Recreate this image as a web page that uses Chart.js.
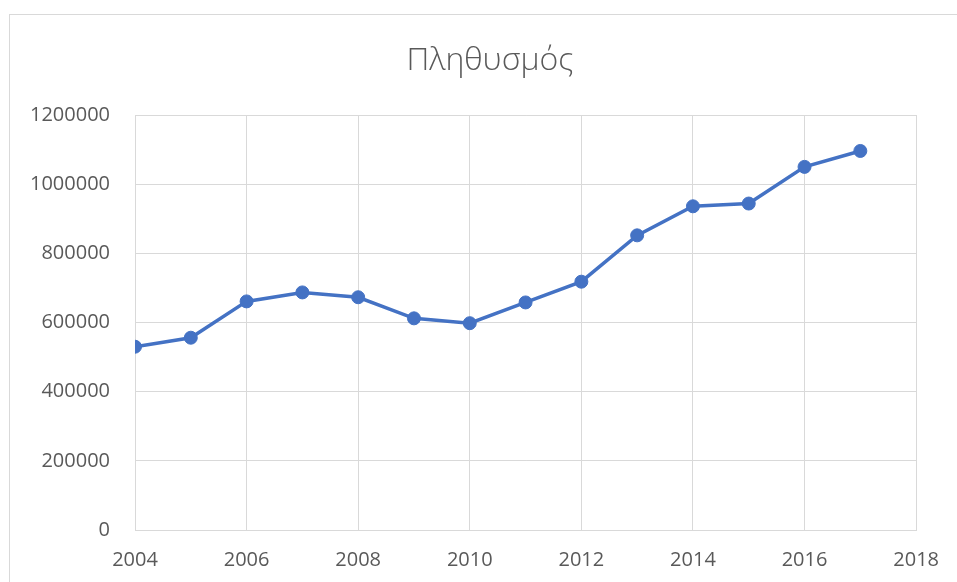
<!DOCTYPE html>
<html>
<head>
<meta charset="utf-8">
<script src="https://cdn.jsdelivr.net/npm/chart.js@4/dist/chart.umd.min.js"></script>
<style>
  html, body { margin: 0; padding: 0; background: #fff; overflow: hidden; }
  #wrap { position: relative; width: 957px; height: 582px; }
  #frame { position: absolute; left: 9px; top: 14px; width: 1000px; height: 1000px; border: 1px solid #d9d9d9; box-sizing: border-box; }
  #title { position: absolute; left: 9px; width: 962px; top: 41.6px; text-align: center;
           font-family: 'Open Sans', 'DejaVu Sans', sans-serif; font-weight: 300; font-size: 32px;
           line-height: 1; color: #595959; white-space: nowrap; }
  canvas { position: absolute; left: 0; top: 0; }
</style>
</head>
<body>
<div id="wrap">
  <div id="frame"></div>
  <canvas id="c" width="957" height="582"></canvas>
  <div id="title"></div>
</div>
<script>
const titleText = "Πληθυσμός";
const years = [2004, 2005, 2006, 2007, 2008, 2009, 2010, 2011, 2012, 2013, 2014, 2015, 2016, 2017];
const population = [530000, 556000, 661000, 687000, 673000, 612000, 598000, 658000, 718000, 852000, 936000, 944000, 1050000, 1096000];
const xTicks = [2004, 2006, 2008, 2010, 2012, 2014, 2016, 2018];
const yTicks = [0, 200000, 400000, 600000, 800000, 1000000, 1200000];

document.getElementById('title').textContent = titleText;

const points = years.map((y, i) => ({ x: y, y: population[i] }));
const FONT = "'Open Sans', 'DejaVu Sans', sans-serif";
const GRID = '#d9d9d9';
const TXT = '#595959';

new Chart(document.getElementById('c'), {
  type: 'line',
  data: {
    datasets: [{
      label: titleText,
      data: points,
      borderColor: '#4472C4',
      backgroundColor: '#4472C4',
      borderWidth: 3.5,
      pointRadius: 6.5,
      pointBorderWidth: 1,
      pointBackgroundColor: '#4472C4',
      pointBorderColor: '#4472C4',
      tension: 0,
      fill: false
    }]
  },
  options: {
    responsive: false,
    animation: false,
    events: [],
    layout: { padding: { left: 0, right: 40, top: 115, bottom: 0 } },
    plugins: {
      legend: { display: false },
      tooltip: { enabled: false },
      title: { display: false }
    },
    scales: {
      x: {
        type: 'linear',
        min: xTicks[0],
        max: xTicks[xTicks.length - 1],
        afterBuildTicks: (axis) => { axis.ticks = xTicks.map(v => ({ value: v })); },
        afterFit: (axis) => { axis.height = 52; },
        ticks: {
          color: TXT,
          font: { family: FONT, size: 20 },
          padding: 18,
          maxRotation: 0,
          autoSkip: false,
          callback: (v) => String(v)
        },
        grid: { color: GRID, lineWidth: 1, drawTicks: false },
        border: { color: GRID, width: 1 }
      },
      y: {
        min: yTicks[0],
        max: yTicks[yTicks.length - 1],
        afterBuildTicks: (axis) => { axis.ticks = yTicks.map(v => ({ value: v })); },
        afterFit: (axis) => { axis.width = 135; },
        ticks: {
          color: TXT,
          font: { family: FONT, size: 20 },
          padding: 25,
          callback: (v) => String(v)
        },
        grid: { color: GRID, lineWidth: 1, drawTicks: false },
        border: { color: GRID, width: 1 }
      }
    }
  },
  plugins: [{
    id: 'rightBorder',
    afterDraw(chart) {
      const a = chart.chartArea, ctx = chart.ctx;
      ctx.save();
      ctx.strokeStyle = GRID;
      ctx.lineWidth = 1;
      ctx.beginPath();
      ctx.moveTo(Math.round(a.right) + 0.5, a.top);
      ctx.lineTo(Math.round(a.right) + 0.5, a.bottom);
      ctx.stroke();
      ctx.restore();
    }
  }]
});
</script>
</body>
</html>
